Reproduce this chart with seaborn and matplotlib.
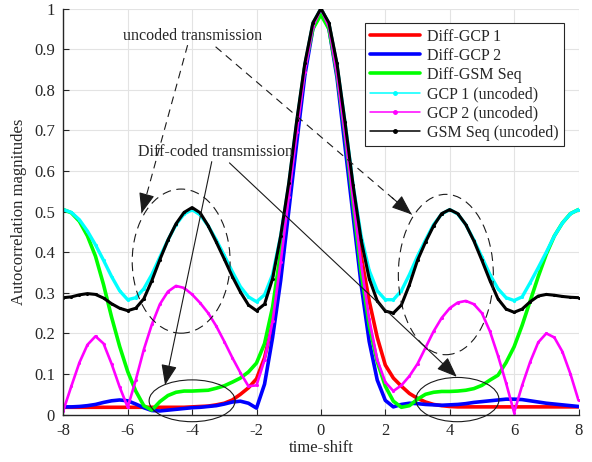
import numpy as np
import pandas as pd
import matplotlib
matplotlib.use("Agg")
import matplotlib.pyplot as plt
from matplotlib.patches import Ellipse
from matplotlib.lines import Line2D
import seaborn as sns

# ---------------- data ----------------
time_shift = np.arange(-8, 8.001, 0.25)

diff_gcp1 = [0.018, 0.018, 0.018, 0.018, 0.018, 0.018, 0.018, 0.018,
             0.018, 0.018, 0.018, 0.018, 0.018, 0.018, 0.018, 0.018,
             0.019, 0.020, 0.021, 0.024, 0.028, 0.036, 0.050, 0.066,
             0.088, 0.140, 0.225, 0.370, 0.535, 0.700, 0.855, 0.958,
             1.000,
             0.960, 0.855, 0.700, 0.530, 0.390, 0.280, 0.190, 0.122,
             0.090, 0.070, 0.052, 0.040, 0.031, 0.025, 0.022, 0.020,
             0.019, 0.019, 0.019, 0.019, 0.019, 0.019, 0.019, 0.019,
             0.019, 0.019, 0.019, 0.019, 0.019, 0.019, 0.019, 0.019]

diff_gcp2 = [0.019, 0.019, 0.020, 0.022, 0.025, 0.030, 0.034, 0.036,
             0.034, 0.026, 0.017, 0.010, 0.009, 0.011, 0.013, 0.015,
             0.017, 0.018, 0.020, 0.022, 0.026, 0.031, 0.033, 0.028,
             0.016, 0.075, 0.190, 0.330, 0.500, 0.670, 0.835, 0.950,
             0.995,
             0.950, 0.830, 0.660, 0.490, 0.320, 0.180, 0.085, 0.035,
             0.019, 0.025, 0.028, 0.027, 0.025, 0.024, 0.023, 0.024,
             0.025, 0.027, 0.030, 0.032, 0.034, 0.036, 0.038, 0.038,
             0.037, 0.034, 0.031, 0.028, 0.026, 0.024, 0.022, 0.020]

diff_gsm = [0.505, 0.497, 0.476, 0.440, 0.390, 0.320, 0.240, 0.168,
            0.106, 0.058, 0.022, 0.011, 0.032, 0.047, 0.055, 0.058,
            0.058, 0.059, 0.060, 0.065, 0.071, 0.080, 0.090, 0.105,
            0.127, 0.175, 0.265, 0.400, 0.550, 0.710, 0.855, 0.950,
            0.985,
            0.950, 0.840, 0.690, 0.520, 0.350, 0.220, 0.130, 0.070,
            0.033, 0.018, 0.022, 0.038, 0.050, 0.055, 0.057, 0.057,
            0.058, 0.060, 0.064, 0.072, 0.085, 0.097, 0.128, 0.167,
            0.220, 0.280, 0.340, 0.395, 0.440, 0.472, 0.495, 0.505]

gcp1_unc = [0.505, 0.498, 0.480, 0.452, 0.418, 0.380, 0.340, 0.305,
            0.283, 0.288, 0.310, 0.345, 0.388, 0.430, 0.468, 0.494,
            0.505, 0.492, 0.465, 0.430, 0.392, 0.352, 0.315, 0.290,
            0.278, 0.295, 0.345, 0.440, 0.565, 0.720, 0.860, 0.963,
            1.000,
            0.963, 0.860, 0.720, 0.565, 0.440, 0.355, 0.305, 0.283,
            0.283, 0.305, 0.345, 0.390, 0.430, 0.468, 0.494, 0.505,
            0.494, 0.468, 0.430, 0.388, 0.345, 0.310, 0.288, 0.281,
            0.290, 0.325, 0.362, 0.400, 0.440, 0.472, 0.495, 0.505]

gcp2_unc = [0.010, 0.070, 0.128, 0.172, 0.193, 0.175, 0.125, 0.068,
            0.018, 0.085, 0.160, 0.222, 0.272, 0.303, 0.317, 0.312,
            0.296, 0.275, 0.250, 0.218, 0.180, 0.140, 0.103, 0.070,
            0.072, 0.135, 0.230, 0.375, 0.535, 0.695, 0.845, 0.955,
            1.000,
            0.955, 0.840, 0.690, 0.530, 0.370, 0.235, 0.135, 0.080,
            0.058, 0.072, 0.095, 0.125, 0.165, 0.205, 0.238, 0.262,
            0.276, 0.280, 0.272, 0.250, 0.205, 0.145, 0.078, 0.005,
            0.072, 0.130, 0.178, 0.200, 0.190, 0.155, 0.100, 0.035]

gsm_unc = [0.288, 0.290, 0.295, 0.298, 0.296, 0.287, 0.273, 0.262,
           0.256, 0.262, 0.285, 0.330, 0.382, 0.430, 0.470, 0.498,
           0.510, 0.497, 0.465, 0.425, 0.383, 0.340, 0.302, 0.270,
           0.256, 0.272, 0.335, 0.440, 0.570, 0.725, 0.865, 0.965,
           1.000,
           0.965, 0.865, 0.720, 0.565, 0.430, 0.335, 0.280, 0.255,
           0.250, 0.270, 0.320, 0.380, 0.425, 0.465, 0.495, 0.505,
           0.495, 0.468, 0.428, 0.380, 0.330, 0.285, 0.260, 0.252,
           0.260, 0.278, 0.292, 0.296, 0.294, 0.291, 0.289, 0.288]

series_names = ["Diff-GCP 1", "Diff-GCP 2", "Diff-GSM Seq",
                "GCP 1 (uncoded)", "GCP 2 (uncoded)", "GSM Seq (uncoded)"]
series_values = [diff_gcp1, diff_gcp2, diff_gsm, gcp1_unc, gcp2_unc, gsm_unc]
series_colors = ["#ff0000", "#0000ff", "#00ff00", "#00ffff", "#ff00ff", "#000000"]

x_ticks = [-8, -6, -4, -2, 0, 2, 4, 6, 8]
x_tick_labels = ["-8", "-6", "-4", "-2", "0", "2", "4", "6", "8"]
y_ticks = [0, 0.1, 0.2, 0.3, 0.4, 0.5, 0.6, 0.7, 0.8, 0.9, 1]
y_tick_labels = ["0", "0.1", "0.2", "0.3", "0.4", "0.5", "0.6", "0.7", "0.8", "0.9", "1"]

# ---------------- style ----------------
sns.set_theme(style="ticks")
plt.rcParams["font.family"] = ["Liberation Serif", "DejaVu Serif"]

fig = plt.figure(figsize=(5.92, 4.62), dpi=100)
ax = fig.add_axes([63.3 / 592, (462 - 414.6) / 462,
                   (578.5 - 63.3) / 592, (414.6 - 8.6) / 462])

frames = []
for name, vals in zip(series_names, series_values):
    assert len(vals) == len(time_shift), name
    frames.append(pd.DataFrame({"shift": time_shift, "val": vals, "series": name}))
df = pd.concat(frames, ignore_index=True)

handles = []
for i, (name, col) in enumerate(zip(series_names, series_colors)):
    sub = df[df["series"] == name]
    if i < 3:
        sns.lineplot(data=sub, x="shift", y="val", ax=ax, color=col, lw=2.6,
                     sort=True, estimator=None, legend=False)
        handles.append(Line2D([], [], color=col, lw=2.6, label=name))
    else:
        lw = 2.4 if name.startswith("GCP 1") else (1.9 if name.startswith("GCP 2") else 2.2)
        sns.lineplot(data=sub, x="shift", y="val", ax=ax, color=col, lw=lw,
                     marker=".", markersize=4.5, markeredgewidth=0,
                     sort=True, estimator=None, legend=False)
        handles.append(Line2D([], [], color=col, lw=1.1, marker=".",
                              markersize=5, label=name))

ax.set_xlim(-8, 8)
ax.set_ylim(0, 1)
ax.set_xticks(x_ticks)
ax.set_xticklabels(x_tick_labels)
ax.set_yticks(y_ticks)
ax.set_yticklabels(y_tick_labels)
ax.grid(True, color="#e3e3e3", lw=0.8)
ax.set_axisbelow(True)
for s in ["top", "right"]:
    ax.spines[s].set_visible(False)
for s in ["left", "bottom"]:
    ax.spines[s].set_color("#262626")
    ax.spines[s].set_linewidth(1.0)
ax.tick_params(direction="in", length=4, width=0.8, colors="#262626",
               labelsize=12, pad=6)
ax.set_xlabel("time-shift", fontsize=12, color="#262626", labelpad=1)
ax.set_ylabel("Autocorrelation magnitudes", fontsize=12, color="#262626", labelpad=5)

leg = ax.legend(handles=handles, loc="upper right", fontsize=11.5, frameon=True,
                fancybox=False, edgecolor="#262626", framealpha=1,
                handlelength=3.1, borderaxespad=0.9, labelspacing=0.2,
                borderpad=0.35, handletextpad=0.45, numpoints=1)
leg.get_frame().set_linewidth(0.8)

# ---------------- annotations ----------------
ax.text(-4.0, 0.932, "uncoded transmission", ha="center", va="center", fontsize=11.5)
ax.text(-3.26, 0.647, "Diff-coded transmission", ha="center", va="center", fontsize=11.5)


def arrow(start, tip, dashed):
    sx, sy = start
    tx, ty = tip
    style = "-|>,head_length=0.9,head_width=0.35"
    if dashed:
        ax.plot([sx, tx], [sy, ty], color="k", lw=0.8, ls=(0, (7, 5)))
        mx, my = sx + (tx - sx) * 0.9, sy + (ty - sy) * 0.9
        ax.annotate("", xy=(tx, ty), xytext=(mx, my),
                    arrowprops=dict(arrowstyle=style, color="k", lw=0.8,
                                    mutation_scale=14, shrinkA=0, shrinkB=0))
    else:
        ax.annotate("", xy=(tx, ty), xytext=(sx, sy),
                    arrowprops=dict(arrowstyle=style, color="k", lw=0.8,
                                    mutation_scale=14, shrinkA=0, shrinkB=0))


arrow((-4.14, 0.91), (-5.57, 0.496), True)
arrow((-3.27, 0.906), (2.82, 0.493), True)
arrow((-3.39, 0.623), (-4.84, 0.073), False)
arrow((-2.84, 0.62), (4.22, 0.093), False)

for (cx, cy, w, h, ls) in [(-4.34, 0.378, 3.04, 0.355, (0, (8, 5))),
                           (3.88, 0.345, 2.95, 0.395, (0, (8, 5))),
                           (-4.0, 0.034, 2.67, 0.103, "-"),
                           (4.24, 0.037, 2.58, 0.109, "-")]:
    e = Ellipse((cx, cy), w, h, fill=False, edgecolor="k", lw=0.8,
                linestyle=ls, clip_on=False, zorder=5)
    ax.add_patch(e)

fig.savefig("out.png", dpi=100)
